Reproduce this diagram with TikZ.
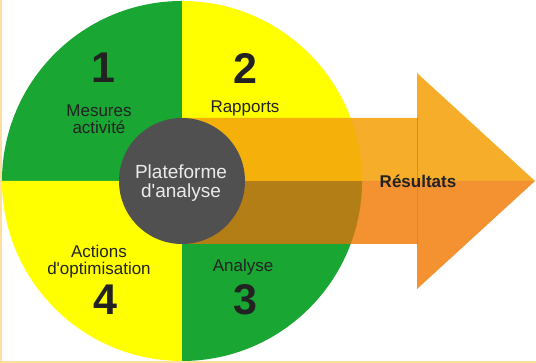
\documentclass[tikz,border=0pt]{standalone}
\usepackage{fontspec}
\setmainfont{Liberation Sans}
\usepackage{tikz}
\usetikzlibrary{positioning}

\definecolor{quadgreen}{RGB}{25,166,51}
\definecolor{quadyellow}{RGB}{255,255,0}
\definecolor{hubgray}{RGB}{80,80,80}
\definecolor{arrowtop}{RGB}{245,173,42}
\definecolor{arrowbot}{RGB}{244,145,48}
\definecolor{mixtop}{RGB}{246,176,10}
\definecolor{mixbot}{RGB}{180,126,22}
\definecolor{frameline}{RGB}{255,222,160}
\definecolor{inktext}{RGB}{34,34,34}

\begin{document}
\begin{tikzpicture}[x=1pt, y=1pt,
    steplabel/.style={text=inktext, align=center, font=\fontsize{17}{20}\selectfont},
    stepnum/.style={text=inktext, font=\fontsize{43}{43}\bfseries},
    hublabel/.style={text=white!92!black, align=center, font=\fontsize{19}{22}\selectfont}]
  \useasboundingbox (0,0) rectangle (536,363);
  \fill[white] (0,0) rectangle (536,363);
  % four quarters of the cycle
  \fill[quadgreen]  (182,182) -- (2,182)   arc (180:90:180)  -- cycle;
  \fill[quadyellow] (182,182) -- (182,362) arc (90:0:180)    -- cycle;
  \fill[quadyellow] (182,182) -- (2,182)   arc (180:270:180) -- cycle;
  \fill[quadgreen]  (182,182) -- (182,2)   arc (270:360:180) -- cycle;
  % result arrow, two halves
  \fill[arrowtop] (182,182) -- (182,245) -- (417,245) -- (417,290) -- (535,182) -- cycle;
  \fill[arrowbot] (182,182) -- (182,119) -- (417,119) -- (417,74)  -- (535,182) -- cycle;
  \begin{scope}
    \clip (182,182) circle (180);
    \fill[mixtop] (182,182) rectangle (417,245);
    \fill[mixbot] (182,119) rectangle (417,182);
  \end{scope}
  \draw[arrowbot!85!red, line width=0.8] (417,245) -- (417,119);
  % hub
  \fill[hubgray] (182,182) circle (63);
  \node[hublabel] (hub) at (181,180) {Plateforme\\[-3pt]d\textquotesingle analyse};
  % labels and numbers
  \node[stepnum]   (n1) at (103,295) {1};
  \node[steplabel] (l1) at (99,244)  {Mesures\\[-3pt]activité};
  \node[stepnum]   (n2) at (245,295) {2};
  \node[steplabel] (l2) at (245,255) {Rapports};
  \node[steplabel] (l3) at (243,96)  {Analyse};
  \node[stepnum]   (n3) at (245,63)  {3};
  \node[steplabel] (l4) at (99,101)  {Actions\\[-3pt]d\textquotesingle optimisation};
  \node[stepnum]   (n4) at (105,63)  {4};
  \node[text=inktext, font=\fontsize{17}{20}\bfseries] (res) at (418,182) {Résultats};
  % frame
  \draw[frameline, line width=1.5] (0.75,363) -- (0.75,0.75) -- (536,0.75);
\end{tikzpicture}
\end{document}
